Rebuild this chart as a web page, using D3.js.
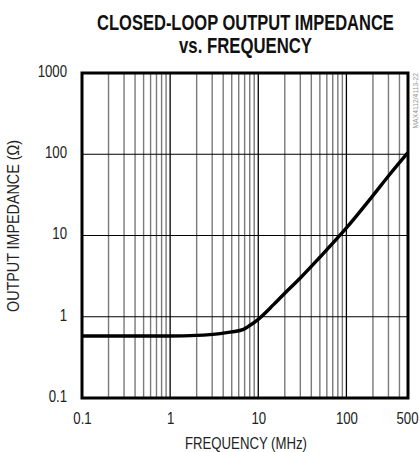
<!DOCTYPE html>
<html><head><meta charset="utf-8">
<script src="https://cdn.jsdelivr.net/npm/d3@7"></script>
<style>body{margin:0;background:#fff}svg{display:block}</style>
</head><body>
<script>
const freqMHz = [0.1, 0.5, 1, 2, 3.7, 5, 6.8, 8, 10, 15, 20, 30, 50, 100, 200, 300, 500];
const impedance = [0.58, 0.58, 0.58, 0.59, 0.62, 0.65, 0.7, 0.78, 0.93, 1.42, 1.95, 3.0, 5.4, 12.4, 31, 54, 105];
const xTicks = [0.1, 1, 10, 100, 500];
const xTickLabels = ["0.1", "1", "10", "100", "500"];
const yTicks = [0.1, 1, 10, 100, 1000];
const yTickLabels = ["0.1", "1", "10", "100", "1000"];

const W = 420, H = 452;
const m = {left: 82, right: 12, top: 73, bottom: 54};
const FONT = "'Liberation Sans','Arial',sans-serif";
const svg = d3.select("body").append("svg").attr("width", W).attr("height", H);
const x = d3.scaleLog().domain([0.1, 500]).range([m.left, W - m.right]);
const y = d3.scaleLog().domain([0.1, 1000]).range([H - m.bottom, m.top]);

// horizontally squeeze text by factor f (or to width w) using a scale transform
function squeeze(sel, f, w) {
  sel.each(function () {
    const t = d3.select(this);
    const k = w ? w / this.getComputedTextLength() : f;
    const x0 = +(t.attr("x") || 0);
    const tr = t.attr("transform") || "";
    t.attr("x", x0 / k).attr("transform", (tr + ` scale(${k},1)`).trim());
  });
}

// vertical grid
const vg = [];
for (let d = 0.1; d < 500; d *= 10) for (let k = 1; k < 10; k++) { const v = d * k; if (v > 0.1 * 1.0001 && v < 500 * 0.9999) vg.push({v, major: k === 1}); }
svg.append("g").selectAll("line").data(vg).join("line")
  .attr("x1", d => x(d.v)).attr("x2", d => x(d.v))
  .attr("y1", y(1000)).attr("y2", y(0.1))
  .attr("stroke", d => d.major ? "#000" : "#7a7a7a").attr("stroke-width", d => d.major ? 1.3 : 1.4);
// horizontal grid
svg.append("g").selectAll("line").data(yTicks.slice(1, -1)).join("line")
  .attr("x1", x(0.1)).attr("x2", x(500)).attr("y1", d => y(d)).attr("y2", d => y(d))
  .attr("stroke", "#000").attr("stroke-width", 1.2);

// curve
svg.append("path").datum(freqMHz.map((f, i) => [f, impedance[i]]))
  .attr("fill", "none").attr("stroke", "#000").attr("stroke-width", 3.4)
  .attr("stroke-linejoin", "round")
  .attr("d", d3.line().x(d => x(d[0])).y(d => y(d[1])).curve(d3.curveMonotoneX));

// frame
svg.append("rect").attr("x", x(0.1)).attr("y", y(1000))
  .attr("width", x(500) - x(0.1)).attr("height", y(0.1) - y(1000))
  .attr("fill", "none").attr("stroke", "#000").attr("stroke-width", 3);

// axes labels
const xa = d3.axisBottom(x).tickValues(xTicks).tickFormat((d, i) => xTickLabels[i]).tickSize(0).tickPadding(14);
const gx = svg.append("g").attr("transform", `translate(0,${y(0.1)})`).call(xa);
const ya = d3.axisLeft(y).tickValues(yTicks).tickFormat((d, i) => yTickLabels[i]).tickSize(0).tickPadding(15);
const gy = svg.append("g").attr("transform", `translate(${x(0.1)},-2)`).call(ya);
[gx, gy].forEach(g => {
  g.select(".domain").remove();
  g.selectAll("text").attr("font-family", FONT).attr("font-size", 16.5).attr("fill", "#222");
});
gx.selectAll(".tick").filter(d => d === 500).select("text").attr("text-anchor", "end").attr("x", 10);
gx.selectAll("text").call(squeeze, 0.8);
gy.selectAll("text").call(squeeze, 0.8);

svg.append("text").attr("x", 246).attr("y", 449).attr("text-anchor", "middle")
  .attr("font-family", FONT).attr("font-size", 16.5).attr("fill", "#222").text("FREQUENCY (MHz)").call(squeeze, 0, 122);
svg.append("text").attr("transform", `translate(19,226) rotate(-90)`)
  .attr("text-anchor", "middle").attr("font-family", FONT).attr("font-size", 16.5).attr("fill", "#222")
  .text("OUTPUT IMPEDANCE (Ω)").call(squeeze, 0, 172);

// title
svg.append("text").attr("x", 245.5).attr("y", 30).attr("text-anchor", "middle").attr("font-family", FONT)
  .attr("font-weight", "bold").attr("font-size", 22).attr("fill", "#111")
  .text("CLOSED-LOOP OUTPUT IMPEDANCE").call(squeeze, 0, 297);
svg.append("text").attr("x", 245.5).attr("y", 53).attr("text-anchor", "middle").attr("font-family", FONT)
  .attr("font-weight", "bold").attr("font-size", 22).attr("fill", "#111")
  .text("vs. FREQUENCY").call(squeeze, 0, 133);

// watermark
svg.append("text").attr("transform", "translate(418,73) rotate(-90)").attr("text-anchor", "end")
  .attr("font-family", FONT).attr("font-size", 8).attr("fill", "#999").text("MAX4112/4113-22").call(squeeze, 0.85);
</script>
</body></html>
